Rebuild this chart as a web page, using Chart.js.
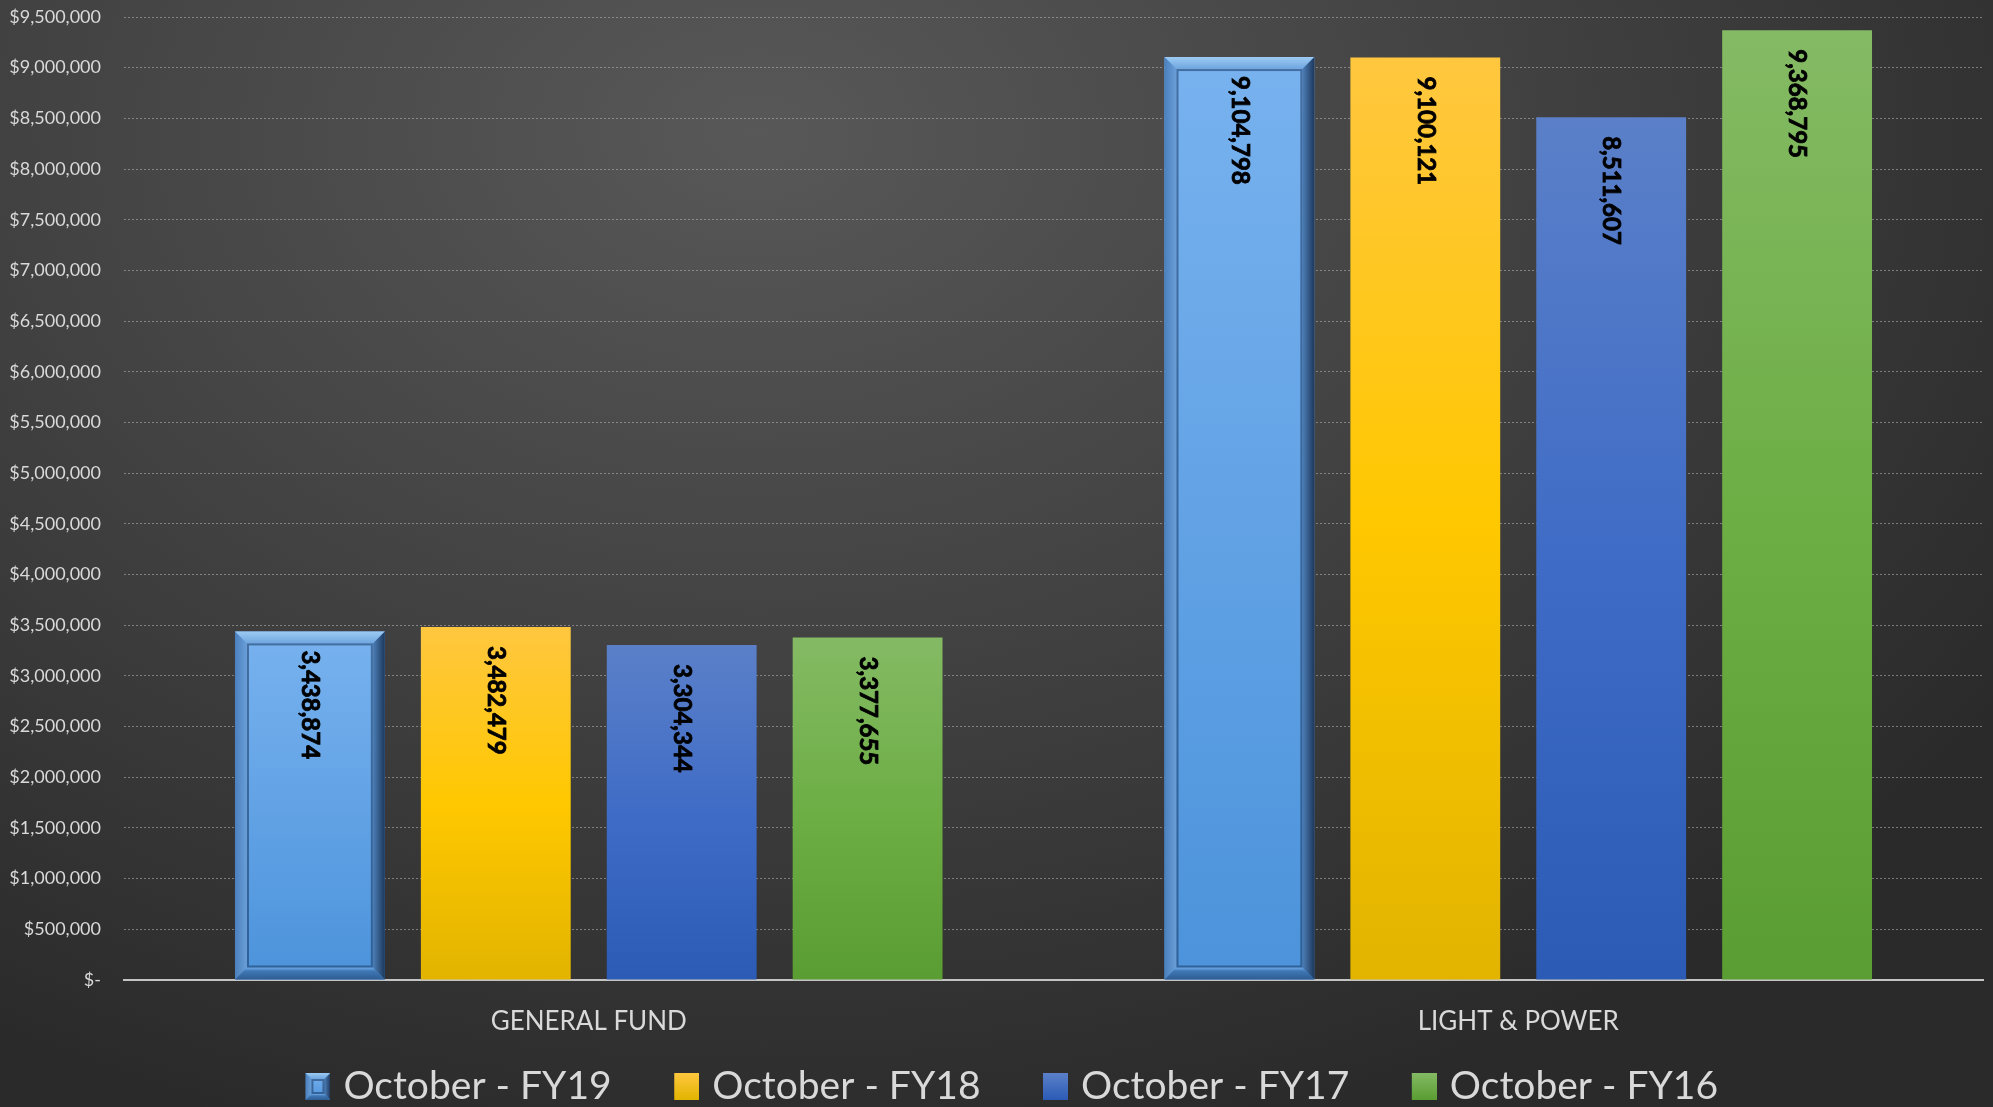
<!DOCTYPE html>
<html>
<head>
<meta charset="utf-8">
<script src="https://cdn.jsdelivr.net/npm/chart.js@4.4.0/dist/chart.umd.min.js"></script>
<style>
    html, body { margin: 0; padding: 0; }
    body {
        width: 1993px; height: 1107px; overflow: hidden;
        background: radial-gradient(ellipse 75% 95% at 38% 12%, #585858 0%, #444444 45%, #2a2a2a 100%);
    }
    #wrap { position: relative; width: 1993px; height: 1107px; }
</style>
</head>
<body>
<div id="wrap"><canvas id="myChart"></canvas></div>
<script>
const categories = ['GENERAL FUND', 'LIGHT & POWER'];
const seriesNames = ['October - FY19', 'October - FY18', 'October - FY17', 'October - FY16'];
const fy19 = [3438874, 9104798];
const fy18 = [3482479, 9100121];
const fy17 = [3304344, 8511607];
const fy16 = [3377655, 9368795];
const yMax = 9500000;
const yStep = 500000;

Chart.defaults.font.family = 'Lato';

// vertical gradient per bar, from its top down to the axis
function barGradient(stops) {
    return function (context) {
        const chart = context.chart;
        const area = chart.chartArea;
        if (!area || context.type !== 'data') return stops[0];
        const yTop = chart.scales.y.getPixelForValue(context.parsed.y);
        const g = chart.ctx.createLinearGradient(0, yTop, 0, area.bottom);
        stops.forEach((c, i) => g.addColorStop(i / (stops.length - 1), c));
        return g;
    };
}

function drawBevel(ctx, x0, x1, y0, y1, t) {
    ctx.save();
    // top
    ctx.beginPath();
    ctx.moveTo(x0, y0); ctx.lineTo(x1, y0); ctx.lineTo(x1 - t, y0 + t); ctx.lineTo(x0 + t, y0 + t); ctx.closePath();
    let g = ctx.createLinearGradient(0, y0, 0, y0 + t);
    g.addColorStop(0, '#9ccaf3'); g.addColorStop(1, '#6fa6df');
    ctx.fillStyle = g; ctx.fill();
    // left
    ctx.beginPath();
    ctx.moveTo(x0, y0); ctx.lineTo(x0 + t, y0 + t); ctx.lineTo(x0 + t, y1 - t); ctx.lineTo(x0, y1); ctx.closePath();
    g = ctx.createLinearGradient(x0, 0, x0 + t, 0);
    g.addColorStop(0, '#4a80bd'); g.addColorStop(1, '#6a9fd8');
    ctx.fillStyle = g; ctx.fill();
    // right
    ctx.beginPath();
    ctx.moveTo(x1, y0); ctx.lineTo(x1, y1); ctx.lineTo(x1 - t, y1 - t); ctx.lineTo(x1 - t, y0 + t); ctx.closePath();
    g = ctx.createLinearGradient(x1 - t, 0, x1, 0);
    g.addColorStop(0, '#4d7fb8'); g.addColorStop(1, '#1d385c');
    ctx.fillStyle = g; ctx.fill();
    // bottom
    ctx.beginPath();
    ctx.moveTo(x0, y1); ctx.lineTo(x1, y1); ctx.lineTo(x1 - t, y1 - t); ctx.lineTo(x0 + t, y1 - t); ctx.closePath();
    g = ctx.createLinearGradient(0, y1 - t, 0, y1);
    g.addColorStop(0, '#6eaaea'); g.addColorStop(0.3, '#3f77b4'); g.addColorStop(1, '#2e5d93');
    ctx.fillStyle = g; ctx.fill();
    // inner shadow
    ctx.strokeStyle = 'rgba(25,55,95,0.55)';
    ctx.lineWidth = 2;
    ctx.strokeRect(x0 + t + 1, y0 + t + 1, x1 - x0 - 2 * t - 2, y1 - y0 - 2 * t - 2);
    ctx.restore();
}

// legend swatch sits on the right part of a wider transparent image
function legendIcon(colors, bevel) {
    const c = document.createElement('canvas');
    c.width = 72; c.height = 27;
    const ctx = c.getContext('2d');
    const g = ctx.createLinearGradient(0, 0, 0, 27);
    g.addColorStop(0, colors[0]); g.addColorStop(1, colors[colors.length - 1]);
    ctx.fillStyle = g;
    ctx.fillRect(47, 0, 25, 27);
    if (bevel) drawBevel(ctx, 47, 72, 0, 27, 6);
    return c;
}

const fy19Colors = ['#78b2ef', '#4c93db'];
const fy18Colors = ['#ffc73f', '#ffc800', '#e2b400'];
const fy17Colors = ['#5b80c9', '#3f6cc6', '#2b5bb5'];
const fy16Colors = ['#84ba64', '#6dae45', '#5a9d32'];
const icons = [legendIcon(fy19Colors, true), legendIcon(fy18Colors), legendIcon(fy17Colors), legendIcon(fy16Colors)];

const bevelPlugin = {
    id: 'bevel',
    afterDatasetDraw(chart, args) {
        if (args.index !== 0) return;
        args.meta.data.forEach(bar => {
            const x0 = bar.x - bar.width / 2, x1 = bar.x + bar.width / 2;
            drawBevel(chart.ctx, x0, x1, bar.y, bar.base, 12);
        });
    }
};

const valueLabels = {
    id: 'valueLabels',
    afterDatasetsDraw(chart) {
        const ctx = chart.ctx;
        ctx.save();
        ctx.fillStyle = '#000';
        ctx.strokeStyle = '#000';
        ctx.lineWidth = 0.8;
        ctx.font = 'bold 24px Lato';
        ctx.textAlign = 'left';
        ctx.textBaseline = 'middle';
        chart.data.datasets.forEach((ds, i) => {
            chart.getDatasetMeta(i).data.forEach((bar, j) => {
                const txt = ds.data[j].toLocaleString('en-US');
                ctx.save();
                ctx.translate(bar.x, bar.y + 19);
                ctx.rotate(Math.PI / 2);
                ctx.fillText(txt, 0, 0);
                ctx.strokeText(txt, 0, 0);
                ctx.restore();
            });
        });
        ctx.restore();
    }
};

const ctx = document.getElementById('myChart');

new Chart(ctx, {
    type: 'bar',
    data: {
        labels: categories,
        datasets: [{
            label: seriesNames[0],
            data: fy19,
            backgroundColor: barGradient(fy19Colors),
            borderWidth: 0
        },
        {
            label: seriesNames[1],
            data: fy18,
            backgroundColor: barGradient(fy18Colors),
            borderWidth: 0
        },
        {
            label: seriesNames[2],
            data: fy17,
            backgroundColor: barGradient(fy17Colors),
            borderWidth: 0
        },
        {
            label: seriesNames[3],
            data: fy16,
            backgroundColor: barGradient(fy16Colors),
            borderWidth: 0
        }
        ]
    },
    options: {
        responsive: true,
        maintainAspectRatio: false,
        animation: false,
        categoryPercentage: 0.8,
        barPercentage: 0.806,
        layout: { padding: { top: 17, right: 10, left: 0, bottom: 0 } },
        scales: {
            x: {
                z: 1,
                grid: { display: false, drawTicks: false },
                border: { display: true, color: '#c4c4c4', width: 2 },
                ticks: { color: '#d9d9d9', font: { size: 26 }, padding: 26 },
                afterFit: scale => { scale.height = 65; }
            },
            y: {
                min: 0,
                max: yMax,
                ticks: {
                    stepSize: yStep,
                    color: '#d9d9d9',
                    font: { size: 18 },
                    padding: 0,
                    callback: v => v === 0 ? '$-' : '$' + v.toLocaleString('en-US')
                },
                grid: {
                    drawTicks: true,
                    tickLength: 23,
                    tickColor: 'transparent',
                    color: c => c.tick && c.tick.value === 0 ? 'transparent' : 'rgba(185,185,185,0.55)',
                    lineWidth: 1
                },
                border: { display: false, dash: [2, 2] },
                afterFit: scale => { scale.width = 124; }
            }
        },
        plugins: {
            tooltip: { enabled: false },
            legend: {
                position: 'bottom',
                maxHeight: 62,
                labels: {
                    usePointStyle: true,
                    pointStyleWidth: 59,
                    padding: 22,
                    color: '#d9d9d9',
                    font: { size: 39 },
                    generateLabels: chart => chart.data.datasets.map((ds, i) => ({
                        text: ds.label,
                        pointStyle: icons[i],
                        fillStyle: 'transparent',
                        strokeStyle: 'transparent',
                        lineWidth: 0,
                        fontColor: '#d9d9d9',
                        hidden: !chart.isDatasetVisible(i),
                        datasetIndex: i
                    }))
                }
            }
        }
    },
    plugins: [bevelPlugin, valueLabels]
});
</script>
</body>
</html>
